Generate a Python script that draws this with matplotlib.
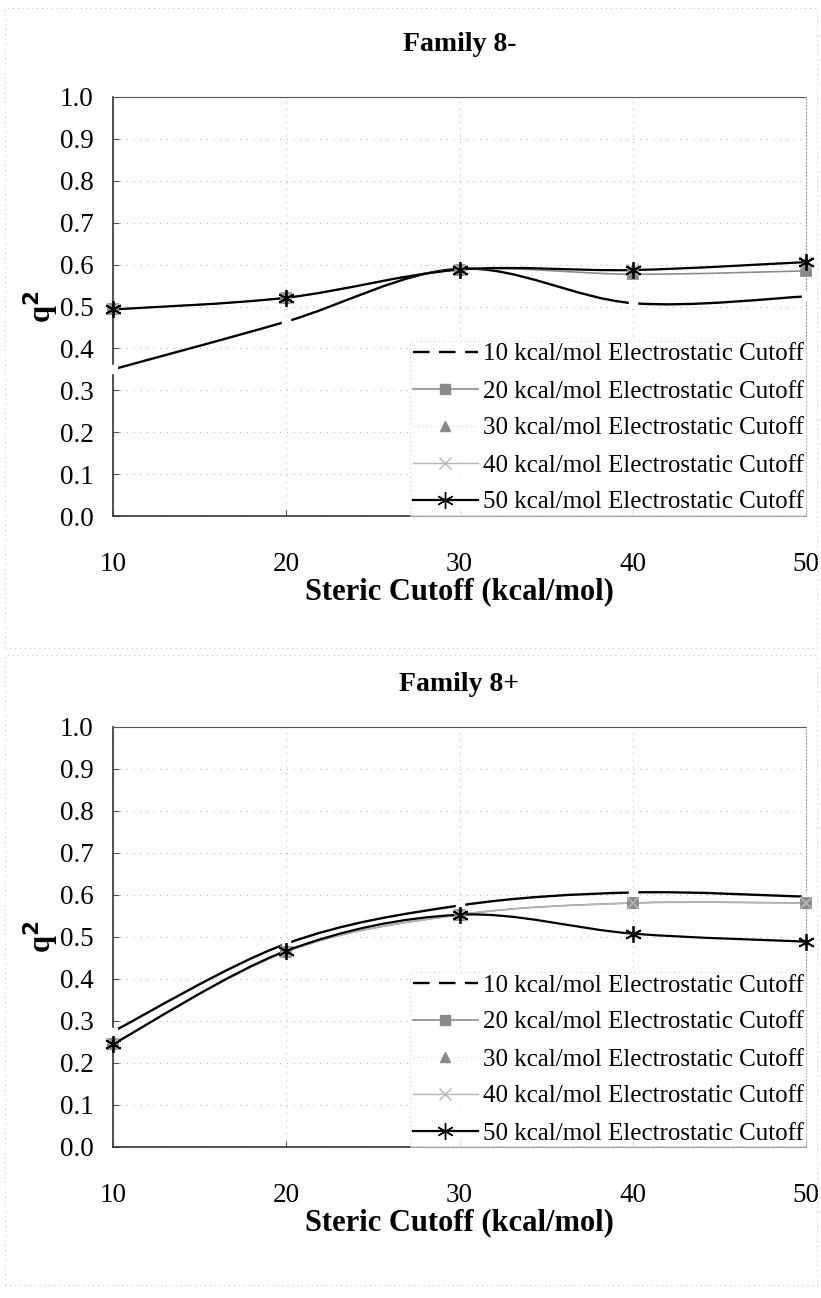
import numpy as np
import matplotlib
matplotlib.use("Agg")
import matplotlib.pyplot as plt
from matplotlib.path import Path
from matplotlib.patches import PathPatch, Rectangle
from matplotlib.lines import Line2D

plt.rcParams['font.family'] = ['Liberation Serif', 'DejaVu Serif']

steric = [10, 20, 30, 40, 50]
series_labels = ["10 kcal/mol Electrostatic Cutoff", "20 kcal/mol Electrostatic Cutoff",
                 "30 kcal/mol Electrostatic Cutoff", "40 kcal/mol Electrostatic Cutoff",
                 "50 kcal/mol Electrostatic Cutoff"]

# Family 8-
minus_e10 = [0.350, 0.464, 0.590, 0.508, 0.524]
minus_e20 = [0.493, 0.521, 0.588, 0.577, 0.585]
minus_e30 = [0.493, 0.521, 0.588, 0.587, 0.605]
minus_e40 = [0.493, 0.521, 0.588, 0.587, 0.605]
minus_e50 = [0.493, 0.521, 0.588, 0.587, 0.606]

# Family 8+
plus_e10 = [0.275, 0.484, 0.575, 0.606, 0.596]
plus_e20 = [0.245, 0.465, 0.553, 0.581, 0.581]
plus_e30 = [0.245, 0.465, 0.553, 0.581, 0.581]
plus_e40 = [0.245, 0.465, 0.553, 0.581, 0.581]
plus_e50 = [0.245, 0.467, 0.553, 0.508, 0.489]

y_ticks = [0.0, 0.1, 0.2, 0.3, 0.4, 0.5, 0.6, 0.7, 0.8, 0.9, 1.0]
x_ticks = [10, 20, 30, 40, 50]


def smooth_path(x, y):
    x = np.asarray(x, float)
    y = np.asarray(y, float)
    P = np.column_stack([x, y])
    n = len(P)
    verts = [P[0]]
    codes = [Path.MOVETO]
    for i in range(n - 1):
        p_prev = P[i - 1] if i > 0 else P[i]
        p_next2 = P[i + 2] if i + 2 < n else P[i + 1]
        c1 = P[i] + (P[i + 1] - p_prev) / 6.0
        c2 = P[i + 1] - (p_next2 - P[i]) / 6.0
        verts += [c1, c2, P[i + 1]]
        codes += [Path.CURVE4] * 3
    return Path(verts, codes)


styles = [
    dict(color='black', lw=1.7, marker=None, ms=0, mfc='none', mec='none', ls='-'),
    dict(color='#8c8c8c', lw=1.2, marker='s', ms=7, mfc='#8a8a8a', mec='#8a8a8a', ls='-'),
    dict(color='#9a9a9a', lw=0.0, marker='^', ms=7, mfc='#8a8a8a', mec='#8a8a8a', ls='none'),
    dict(color='#b5b5b5', lw=1.0, marker='x', ms=8, mfc='#b5b5b5', mec='#b5b5b5', ls='-'),
    dict(color='black', lw=1.6, marker=(6, 2, 0), ms=12, mfc='black', mec='black', ls='-'),
]


def draw(ax, title, data, title_pad):
    # draw order: 40, 30, 20, 10, 50
    for idx in [3, 2, 1, 0, 4]:
        st = styles[idx]
        yv = data[idx]
        if st['ls'] != 'none':
            pp = PathPatch(smooth_path(steric, yv), fill=False, edgecolor=st['color'],
                           lw=st['lw'], transform=ax.transData, zorder=3 + idx * 0.1,
                           capstyle='butt')
            ax.add_patch(pp)
        if idx == 0:
            # white gap at data points
            ax.plot(steric, yv, ls='none', marker='s', ms=6, mfc='white', mec='white',
                    zorder=3.05, clip_on=False)
        elif st['marker'] is not None:
            ax.plot(steric, yv, ls='none', marker=st['marker'], ms=st['ms'],
                    mfc=st['mfc'], mec=st['mec'], mew=1.3, zorder=4 + idx * 0.1,
                    clip_on=False)

    ax.set_xlim(10, 50)
    ax.set_ylim(0, 1.0)
    ax.set_xticks(x_ticks)
    ax.set_yticks(y_ticks)
    ax.set_yticklabels([f"{v:.1f}" for v in y_ticks])
    ax.tick_params(axis='both', labelsize=19.5, length=4, direction='in', color='#555555')
    ax.tick_params(axis='x', pad=26)
    ax.tick_params(axis='y', pad=14)
    ax.grid(True, ls=(0, (1, 5)), color='#b8b8b8', lw=0.8)
    ax.set_axisbelow(True)
    for s in ['left', 'bottom']:
        ax.spines[s].set_color('#333333')
        ax.spines[s].set_linewidth(1.2)
    ax.spines['top'].set_color('#555555')
    ax.spines['top'].set_linestyle((0, (1, 1)))
    ax.spines['right'].set_color('#999999')
    ax.spines['right'].set_linestyle((0, (1, 2)))
    ax.set_title(title, fontsize=20, fontweight='bold', pad=title_pad)
    ax.set_xlabel("Steric Cutoff (kcal/mol)", fontsize=22, fontweight='bold', labelpad=0)
    ax.set_ylabel("q$^\\mathbf{2}$", fontsize=22, fontweight='bold', labelpad=-1)

    handles = [
        Line2D([], [], color='black', lw=1.7, ls=(0, (7, 4))),
        Line2D([], [], color='#8c8c8c', lw=1.2, marker='s', ms=7, mfc='#8a8a8a', mec='#8a8a8a'),
        Line2D([], [], color='#d5d5d5', lw=0.8, ls=(0, (1, 3)), marker='^', ms=7,
               mfc='#8a8a8a', mec='#8a8a8a'),
        Line2D([], [], color='#b5b5b5', lw=1.0, marker='x', ms=8, mec='#b5b5b5'),
        Line2D([], [], color='black', lw=1.6, marker=(6, 2, 0), ms=12, mec='black'),
    ]
    leg = ax.legend(handles, series_labels, loc='lower right', fontsize=18,
                    frameon=True, fancybox=False, handlelength=2.6, handletextpad=0.2,
                    labelspacing=0.58, borderpad=0.1, borderaxespad=0.0)
    leg.get_frame().set_edgecolor('#c8c8c8')
    leg.get_frame().set_linestyle((0, (1, 3)))
    leg.get_frame().set_linewidth(0.8)
    leg.set_zorder(10)


fig = plt.figure(figsize=(8.21, 12.98), dpi=100)
ax1 = fig.add_axes([113 / 821, 1 - 516 / 1298, 693 / 821, (516 - 97) / 1298])
ax2 = fig.add_axes([113 / 821, 1 - 1147 / 1298, 693 / 821, (1147 - 727) / 1298])

draw(ax1, "Family 8-", [minus_e10, minus_e20, minus_e30, minus_e40, minus_e50], 33)
draw(ax2, "Family 8+", [plus_e10, plus_e20, plus_e30, plus_e40, plus_e50], 26)

# faint chart-area borders
for (x0, y0, w, h) in [(5, 8, 812, 640), (5, 655, 812, 630)]:
    fig.patches.append(Rectangle((x0 / 821, 1 - (y0 + h) / 1298), w / 821, h / 1298,
                                 transform=fig.transFigure, fill=False,
                                 edgecolor='#c0c0c0', lw=0.7, ls=(0, (1, 4))))

fig.savefig("out.png", dpi=100)
